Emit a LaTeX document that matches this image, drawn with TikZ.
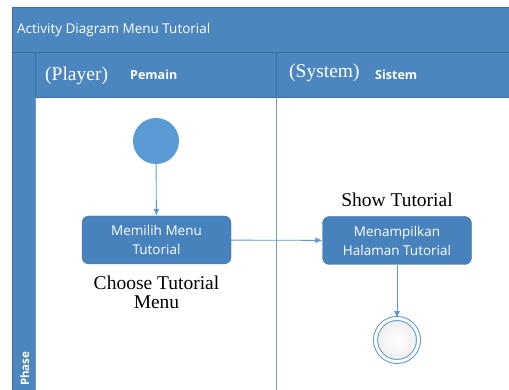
\documentclass[tikz,border=0pt]{standalone}
\usepackage{fontspec}
\setmainfont{Liberation Serif}
\newfontfamily\uisans{Open Sans}
\usetikzlibrary{arrows.meta,positioning}
\definecolor{barblue}{RGB}{76,134,190}
\definecolor{lineblue}{RGB}{58,108,160}
\definecolor{nodeblue}{RGB}{72,130,188}
\definecolor{flowblue}{RGB}{91,155,213}

\begin{document}
\begin{tikzpicture}[x=1pt, y=-1pt,
  every node/.style={inner sep=0pt},
  >={Latex[length=7pt,width=6pt]},
  header/.style={fill=barblue, draw=lineblue, line width=0.8pt},
  lanetitle/.style={font=\fontsize{19.5}{19.5}\selectfont, text=white, anchor=base west},
  lanename/.style={font=\uisans\bfseries\fontsize{12.5}{12.5}\selectfont, text=white, anchor=base west},
  action/.style={rectangle, rounded corners=7pt, fill=nodeblue, draw=nodeblue!85!black, line width=0.4pt,
    minimum width=149pt, minimum height=48pt, align=center, text=white,
    font=\uisans\fontsize{13.5}{19}\selectfont},
  caption/.style={align=center, font=\fontsize{19.5}{19}\selectfont},
  flow/.style={->, draw=flowblue, line width=0.9pt}]
	\useasboundingbox (0,0) rectangle (509,390);
	% frame
	\fill[white] (0,0) rectangle (509,390);
	\draw[header] (12,7) rectangle (512,52);
	\draw[header] (12,52) rectangle (35,393);
	\draw[header] (35,52) rectangle (276,97);
	\draw[header] (276,52) rectangle (512,97);
	\draw[lineblue!70, line width=0.8pt] (35,97) -- (35,393);
	\draw[lineblue!70, line width=0.8pt] (276,97) -- (276,393);
	\node[anchor=base west, text=white, font=\uisans\fontsize{13.5}{13.5}\selectfont] (title) at (17,34) {Activity Diagram Menu Tutorial};
	\node[rotate=90, anchor=base west, text=white, font=\uisans\bfseries\fontsize{11.5}{11.5}\selectfont] (phase) at (29,386) {Phase};
	\node[lanetitle] (player) at (45,81) {(Player)};
	\node[lanename] (pemain) at (130,80) {Pemain};
	\node[lanetitle] (system) at (289,78) {(System)};
	\node[lanename] (sistem) at (375,80) {Sistem};
	% states
	\node[circle, fill=flowblue, minimum size=46pt] (start) at (156,141) {};
	\node[action] (choose) at (156.5,240) {Memilih Menu\\Tutorial};
	\node[caption, below=12pt of choose] (chooselbl) {Choose Tutorial\\Menu};
	\node[action] (show) at (397,240.5) {Menampilkan\\Halaman Tutorial};
	\node[caption, above=9pt of show] (showlbl) {Show Tutorial};
	\node[circle, draw=flowblue, line width=1pt, double=white, double distance=3pt,
	  inner color=white, outer color=black!7, minimum size=43pt] (end) at (397,340) {};
	% flows
	\draw[flow] (start) -- (choose);
	\draw[flow] (choose) -- (show);
	\draw[flow] (show) -- (end);
\end{tikzpicture}
\end{document}
